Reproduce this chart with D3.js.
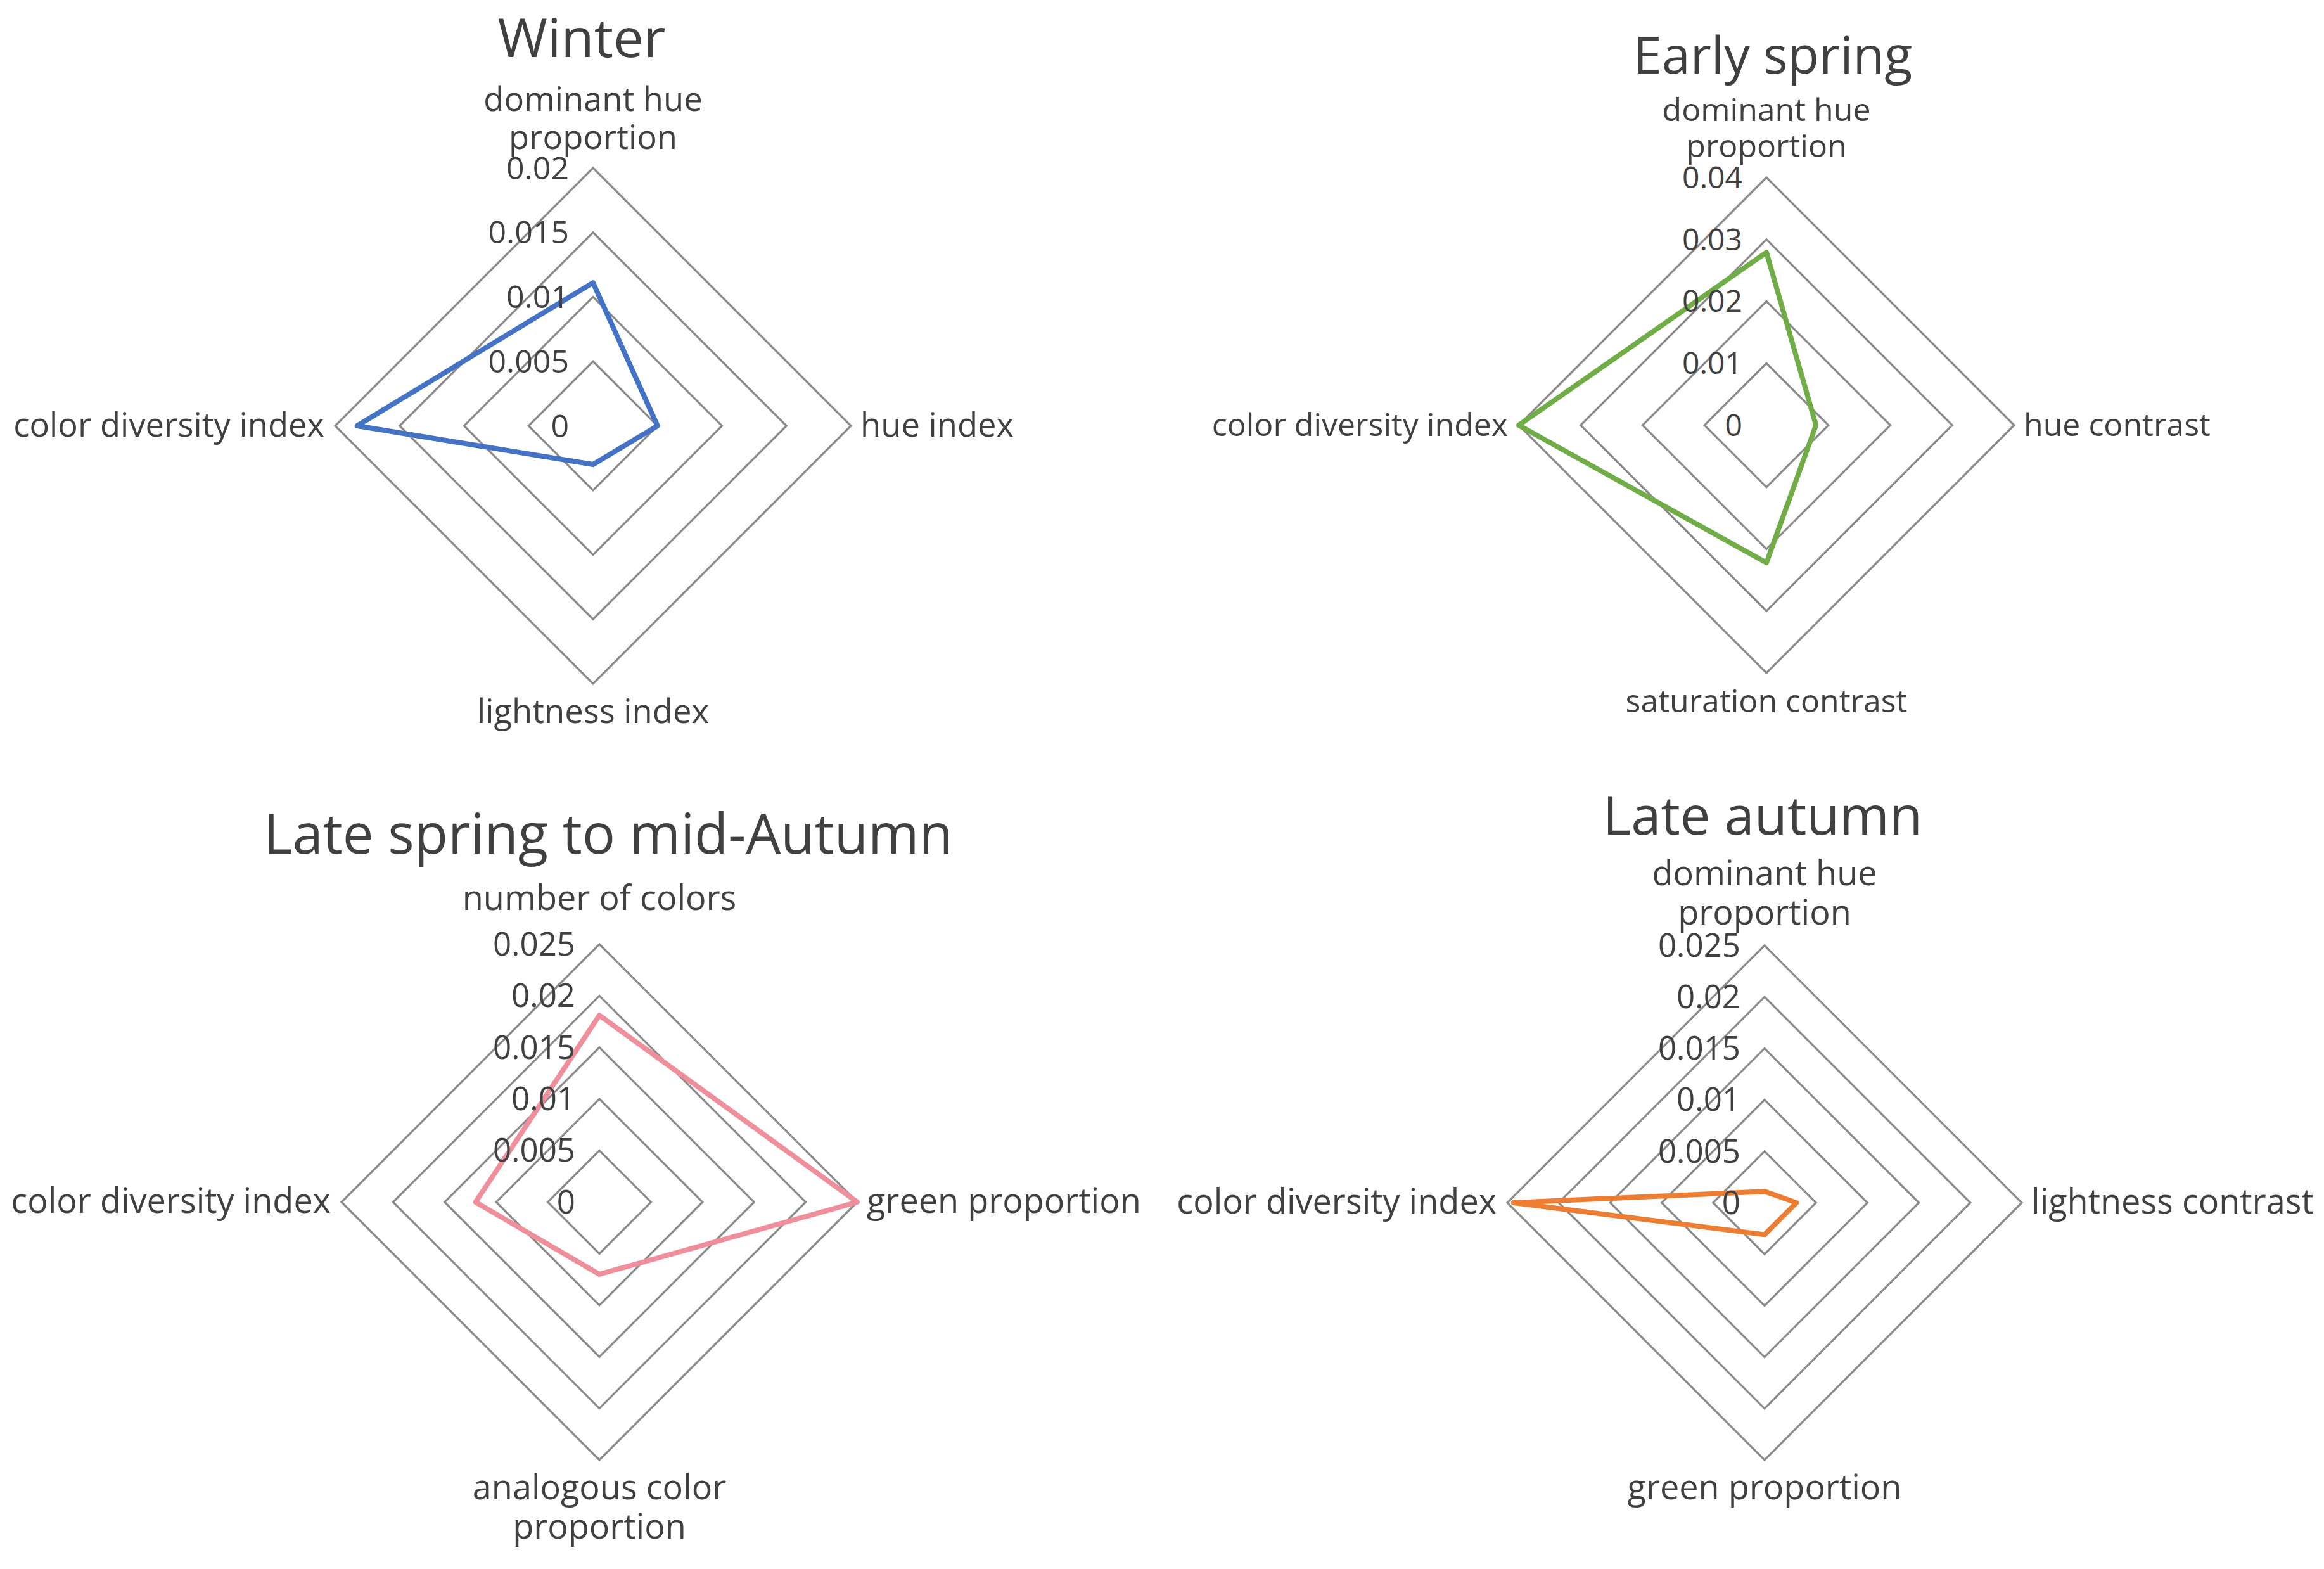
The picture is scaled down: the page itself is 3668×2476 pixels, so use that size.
<!DOCTYPE html>
<html>
<head>
<meta charset="utf-8">
<script src="https://cdn.jsdelivr.net/npm/d3@7"></script>
<style>
  html, body { margin: 0; padding: 0; background: #ffffff; }
  svg { display: block; }
  text { font-family: "Open Sans", "Noto Sans", sans-serif; fill: #404040; }
</style>
</head>
<body>
<svg id="chart" width="3668" height="2476"></svg>
<script>
// ---------------- DATA ----------------
const titles = ["Winter", "Early spring", "Late spring to mid-Autumn", "Late autumn"];

const winterAxes = [["dominant hue", "proportion"], ["hue index"], ["lightness index"], ["color diversity index"]];
const winterValues = [0.0111, 0.0050, 0.0030, 0.0183];
const winterTicks = [0, 0.005, 0.01, 0.015, 0.02];
const winterTickLabels = ["0", "0.005", "0.01", "0.015", "0.02"];

const earlySpringAxes = [["dominant hue", "proportion"], ["hue contrast"], ["saturation contrast"], ["color diversity index"]];
const earlySpringValues = [0.0279, 0.0080, 0.0222, 0.0400];
const earlySpringTicks = [0, 0.01, 0.02, 0.03, 0.04];
const earlySpringTickLabels = ["0", "0.01", "0.02", "0.03", "0.04"];

const lateSpringAxes = [["number of colors"], ["green proportion"], ["analogous color", "proportion"], ["color diversity index"]];
const lateSpringValues = [0.0181, 0.0250, 0.0070, 0.0120];
const lateSpringTicks = [0, 0.005, 0.01, 0.015, 0.02, 0.025];
const lateSpringTickLabels = ["0", "0.005", "0.01", "0.015", "0.02", "0.025"];

const lateAutumnAxes = [["dominant hue", "proportion"], ["lightness contrast"], ["green proportion"], ["color diversity index"]];
const lateAutumnValues = [0.0011, 0.0031, 0.0031, 0.0244];
const lateAutumnTicks = [0, 0.005, 0.01, 0.015, 0.02, 0.025];
const lateAutumnTickLabels = ["0", "0.005", "0.01", "0.015", "0.02", "0.025"];

const seriesColors = ["#4472C4", "#70AD47", "#EE8F9B", "#ED7D31"];

// ---------------- LAYOUT ----------------
const layout = [
  { cx: 936,  cy: 672,  r: 407, titleX: 918,  titleY: 90,   topGap: 30, labelFont: 52.5, tickFont: 50, titleFont: 85 },
  { cx: 2788, cy: 671,  r: 391, titleX: 2798, titleY: 116,  topGap: 32, labelFont: 50,   tickFont: 48, titleFont: 81 },
  { cx: 946,  cy: 1897, r: 407, titleX: 960,  titleY: 1347, topGap: 54, labelFont: 54,   tickFont: 51, titleFont: 87 },
  { cx: 2785, cy: 1898, r: 406, titleX: 2782, titleY: 1317, topGap: 33, labelFont: 54,   tickFont: 51, titleFont: 85 }
];

const charts = [
  { title: titles[0], axes: winterAxes, values: winterValues, ticks: winterTicks, tickLabels: winterTickLabels, color: seriesColors[0] },
  { title: titles[1], axes: earlySpringAxes, values: earlySpringValues, ticks: earlySpringTicks, tickLabels: earlySpringTickLabels, color: seriesColors[1] },
  { title: titles[2], axes: lateSpringAxes, values: lateSpringValues, ticks: lateSpringTicks, tickLabels: lateSpringTickLabels, color: seriesColors[2] },
  { title: titles[3], axes: lateAutumnAxes, values: lateAutumnValues, ticks: lateAutumnTicks, tickLabels: lateAutumnTickLabels, color: seriesColors[3] }
];

const svg = d3.select("#chart");

charts.forEach((c, k) => {
  const L = layout[k];
  const LINE_H = L.labelFont * 1.15;
  const n = c.axes.length;
  const g = svg.append("g").attr("transform", `translate(${L.cx},${L.cy})`);
  const rScale = d3.scaleLinear().domain([0, d3.max(c.ticks)]).range([0, L.r]);
  const angle = i => i * 2 * Math.PI / n;
  const radial = d3.lineRadial()
    .angle((d, i) => angle(i))
    .radius(d => rScale(d))
    .curve(d3.curveLinearClosed);

  // grid rings
  g.selectAll("path.ring")
    .data(c.ticks.filter(t => t > 0))
    .join("path")
    .attr("class", "ring")
    .attr("d", t => radial(d3.range(n).map(() => t)))
    .attr("fill", "none")
    .attr("stroke", "#8a8a8a")
    .attr("stroke-width", 3.2);

  // data polygon
  g.append("path")
    .attr("d", radial(c.values))
    .attr("fill", "none")
    .attr("stroke", c.color)
    .attr("stroke-width", 8)
    .attr("stroke-linejoin", "round");

  // tick labels on top axis
  g.selectAll("text.tick")
    .data(c.ticks)
    .join("text")
    .attr("class", "tick")
    .attr("x", -38)
    .attr("y", t => -rScale(t))
    .attr("dy", "0.35em")
    .attr("text-anchor", "end")
    .attr("font-size", L.tickFont)
    .text((t, i) => c.tickLabels[i]);

  // axis labels
  c.axes.forEach((lines, i) => {
    const a = angle(i);
    const sx = Math.sin(a), sy = -Math.cos(a);
    let x, y, anchor;
    if (Math.abs(sx) < 0.01 && sy < 0) {          // top
      anchor = "middle"; x = 0;
      y = -L.r - L.topGap - (lines.length - 1) * LINE_H;
    } else if (Math.abs(sx) < 0.01) {             // bottom
      anchor = "middle"; x = 0; y = L.r + 62;
    } else if (sx > 0) {                          // right
      anchor = "start"; x = L.r + 15; y = 17;
    } else {                                      // left
      anchor = "end"; x = -L.r - 17; y = 17;
    }
    const t = g.append("text")
      .attr("text-anchor", anchor)
      .attr("font-size", L.labelFont);
    lines.forEach((ln, j) => {
      t.append("tspan").attr("x", x).attr("y", y + j * LINE_H).text(ln);
    });
  });

  // title
  svg.append("text")
    .attr("x", L.titleX)
    .attr("y", L.titleY)
    .attr("text-anchor", "middle")
    .attr("font-size", L.titleFont)
    .text(c.title);
});
</script>
</body>
</html>
